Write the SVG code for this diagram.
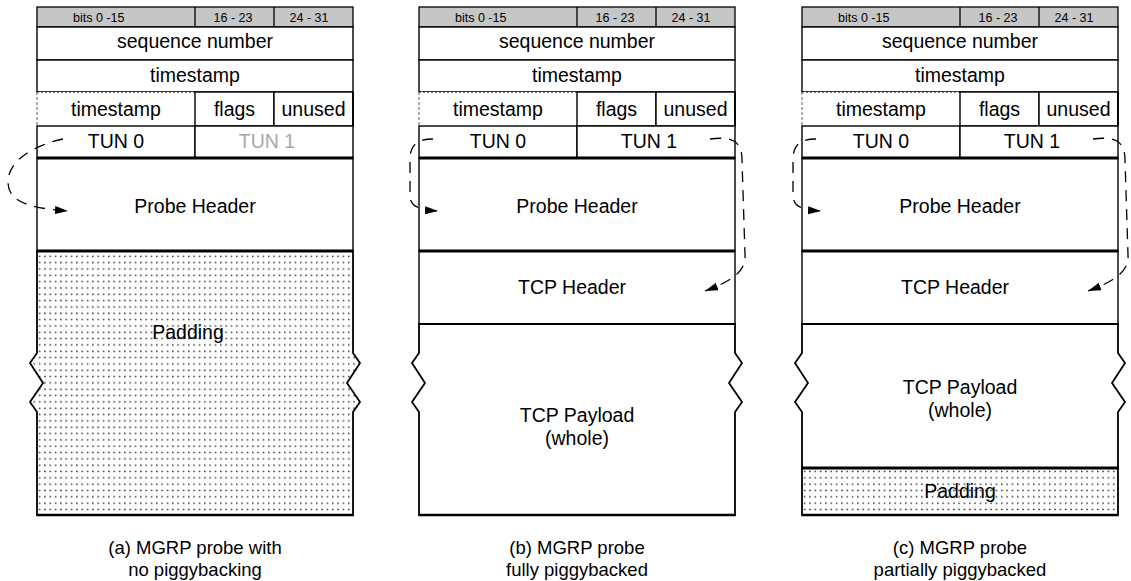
<svg xmlns="http://www.w3.org/2000/svg" width="1131" height="581" viewBox="0 0 1131 581">
  <defs>
    <style>
      text { font-family: "Liberation Sans", Arial, Helvetica, sans-serif; fill: #000; }
      .lbl { font-size: 19.5px; text-anchor: middle; }
      .hdr { font-size: 12.5px; }
      .cap { font-size: 18.5px; text-anchor: middle; }
      .muted { fill: #a8a8a8; }
      .f { fill: #fff; stroke: #000; stroke-width: 1.4; }
      .gray { fill: #c6c6c6; stroke: #000; stroke-width: 1.3; }
      .pad { fill: url(#dots); stroke: #000; stroke-width: 1.8; }
      .open { fill: #fff; stroke: #000; stroke-width: 1.8; }
      .thick { stroke: #000; stroke-width: 3; }
      .base { stroke: #000; stroke-width: 2.6; }
      .dot { stroke: #000; stroke-width: 1.2; stroke-dasharray: 2 2; }
      .side { stroke: #777; stroke-width: 1.2; stroke-dasharray: 3 2; }
      .link { fill: none; stroke: #000; stroke-width: 1.3; stroke-dasharray: 11 8; marker-end: url(#tip); }
    </style>
    <pattern id="dots" patternUnits="userSpaceOnUse" width="5.33" height="6.33">
      <rect width="5.33" height="6.33" fill="#fff"/>
      <circle cx="2.6" cy="3.1" r="0.8" fill="#222"/>
    </pattern>
    <marker id="tip" markerUnits="userSpaceOnUse" markerWidth="14" markerHeight="10" refX="13" refY="4" orient="auto">
      <path d="M0,0 L13,4 L0,8 Z" fill="#000"/>
    </marker>
    <!-- common 32-bit header block shared by every panel (local x 0..316) -->
    <g id="probeTop">
      <g id="bitsRow">
        <rect class="gray" x="0" y="7" width="316" height="20"/>
        <line x1="158" y1="7" x2="158" y2="27" stroke="#000" stroke-width="1.3"/>
        <line x1="237" y1="7" x2="237" y2="27" stroke="#000" stroke-width="1.3"/>
        <text class="hdr" x="36" y="21.5">bits 0 -15</text>
        <text class="hdr" x="196" y="21.5" text-anchor="middle">16 - 23</text>
        <text class="hdr" x="272" y="21.5" text-anchor="middle">24 - 31</text>
      </g>
      <g id="seqField">
        <rect class="f" x="0" y="27" width="316" height="33"/>
        <text class="lbl" x="158" y="48">sequence number</text>
      </g>
      <g id="tsHiField">
        <rect class="f" x="0" y="60" width="316" height="32"/>
        <text class="lbl" x="158" y="81.5">timestamp</text>
      </g>
      <g id="tsLoField">
        <rect x="0" y="92" width="158" height="34" fill="#fff"/>
        <line class="dot" x1="0" y1="92" x2="158" y2="92"/>
        <line class="side" x1="0" y1="92" x2="0" y2="126"/>
        <text class="lbl" x="79" y="115.5">timestamp</text>
      </g>
      <g id="flagsField">
        <rect class="f" x="158" y="92" width="79" height="34"/>
        <text class="lbl" x="197.5" y="115.5">flags</text>
      </g>
      <g id="unusedField">
        <rect class="f" x="237" y="92" width="79" height="34"/>
        <line x1="316" y1="92" x2="316" y2="126" stroke="#000" stroke-width="1.8"/>
        <text class="lbl" x="276.5" y="115.5">unused</text>
      </g>
      <g id="tun0Field">
        <rect class="f" x="0" y="126" width="158" height="32"/>
        <text class="lbl" x="79" y="147.5">TUN 0</text>
      </g>
    </g>
  </defs>

  <!-- (a) probe carrying only padding -->
  <g id="panelA" transform="translate(37,0)">
    <use href="#probeTop"/>
    <g id="a-tun1">
      <rect class="f" x="158" y="126" width="158" height="32"/>
      <text class="lbl muted" x="230" y="147.5">TUN 1</text>
    </g>
    <g id="a-probeHeader">
      <rect class="f" x="0" y="158" width="316" height="93"/>
      <text class="lbl" x="158" y="213">Probe Header</text>
    </g>
    <g id="a-padding">
      <path class="pad" d="M0,251 H316 V353 L323,363 L310,383 L323,402 L316,412 V515 H0 V412 L-7,402 L6,383 L-7,363 L0,353 Z"/>
      <text class="lbl" x="151" y="339">Padding</text>
    </g>
    <line class="thick" x1="0" y1="158" x2="316" y2="158"/>
    <line class="thick" x1="0" y1="251" x2="316" y2="251"/>
    <line class="base" x1="-0.5" y1="515" x2="316.5" y2="515"/>
  </g>

  <!-- (b) probe with a whole TCP segment riding along -->
  <g id="panelB" transform="translate(419,0)">
    <use href="#probeTop"/>
    <g id="b-tun1">
      <rect class="f" x="158" y="126" width="158" height="32"/>
      <text class="lbl" x="230" y="147.5">TUN 1</text>
    </g>
    <g id="b-probeHeader">
      <rect class="f" x="0" y="158" width="316" height="93"/>
      <text class="lbl" x="158" y="213">Probe Header</text>
    </g>
    <g id="b-tcpHeader">
      <rect class="f" x="0" y="251" width="316" height="73"/>
      <text class="lbl" x="153" y="294">TCP Header</text>
    </g>
    <g id="b-payload">
      <path class="open" d="M0,324 H316 V353 L323,363 L310,383 L323,402 L316,412 V515 H0 V412 L-7,402 L6,383 L-7,363 L0,353 Z"/>
      <text class="lbl" x="158" y="422">TCP Payload</text>
      <text class="lbl" x="158" y="445">(whole)</text>
    </g>
    <line class="thick" x1="0" y1="158" x2="316" y2="158"/>
    <line class="thick" x1="0" y1="251" x2="316" y2="251"/>
    <line class="base" x1="-0.5" y1="515" x2="316.5" y2="515"/>
  </g>

  <!-- (c) probe with part of a TCP segment plus padding -->
  <g id="panelC" transform="translate(802,0)">
    <use href="#probeTop"/>
    <g id="c-tun1">
      <rect class="f" x="158" y="126" width="158" height="32"/>
      <text class="lbl" x="230" y="147.5">TUN 1</text>
    </g>
    <g id="c-probeHeader">
      <rect class="f" x="0" y="158" width="316" height="93"/>
      <text class="lbl" x="158" y="213">Probe Header</text>
    </g>
    <g id="c-tcpHeader">
      <rect class="f" x="0" y="251" width="316" height="73"/>
      <text class="lbl" x="153" y="294">TCP Header</text>
    </g>
    <g id="c-payload">
      <path class="open" d="M0,324 H316 V353 L323,363 L310,383 L323,402 L316,412 V468 H0 V412 L-7,402 L6,383 L-7,363 L0,353 Z"/>
      <text class="lbl" x="158" y="394">TCP Payload</text>
      <text class="lbl" x="158" y="417">(whole)</text>
    </g>
    <g id="c-padding">
      <rect class="pad" x="0" y="468" width="316" height="47"/>
      <text class="lbl" x="158" y="498">Padding</text>
    </g>
    <line class="thick" x1="0" y1="158" x2="316" y2="158"/>
    <line class="thick" x1="0" y1="251" x2="316" y2="251"/>
    <line class="thick" x1="0" y1="468" x2="316" y2="468"/>
    <line class="base" x1="-0.5" y1="515" x2="316.5" y2="515"/>
  </g>

  <!-- tunnel pointers -->
  <g id="connectors">
    <path class="link" d="M63,139 C35,145 8,160 8,182 C8,200 25,208 68,211"/>
    <path class="link" d="M433,139 C416,139 410,146 410,160 L410,195 C410,206 418,210 438,211"/>
    <path class="link" d="M710,139 C733,136 742,142 742,160 L745,255 C746,270 735,280 705,291"/>
    <path class="link" d="M816,139 C799,139 793,146 793,160 L793,195 C793,206 801,210 821,211"/>
    <path class="link" d="M1093,139 C1116,136 1125,142 1125,160 L1128,255 C1129,270 1118,280 1088,291"/>
  </g>

  <g id="captions">
    <text class="cap" x="195" y="554">(a) MGRP probe with</text>
    <text class="cap" x="195" y="576">no piggybacking</text>
    <text class="cap" x="577" y="554">(b) MGRP probe</text>
    <text class="cap" x="577" y="576">fully piggybacked</text>
    <text class="cap" x="960" y="554">(c) MGRP probe</text>
    <text class="cap" x="960" y="576">partially piggybacked</text>
  </g>
</svg>
